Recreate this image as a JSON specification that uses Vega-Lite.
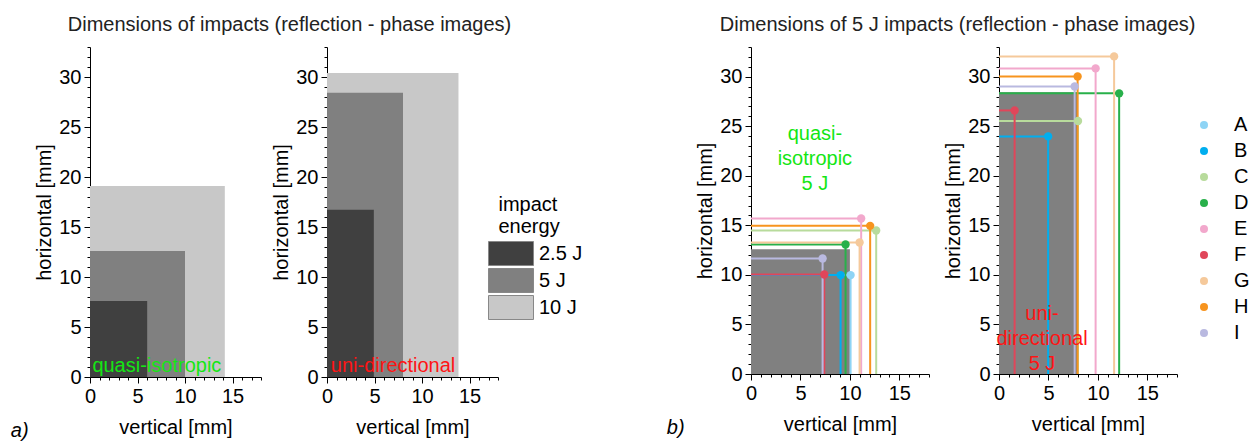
{
  "$schema": "https://vega.github.io/schema/vega-lite/v6.json",
  "background": "white",
  "padding": {"left": 10, "top": 15, "right": 0, "bottom": 0},
  "config": {
    "view": {"stroke": null},
    "font": "Liberation Sans",
    "axis": {
      "grid": false, "domainColor": "#000", "tickColor": "#000", "labelColor": "#000", "titleColor": "#000",
      "labelFont": "Liberation Sans", "titleFont": "Liberation Sans", "labelFontSize": 20, "titleFontSize": 20,
      "titleFontWeight": "normal", "labelFlush": false, "labelOverlap": false, "labelBound": false,
      "labelPadding": 3, "domainWidth": 1, "tickWidth": 1, "tickCount": 100, "format": "d"
    },
    "axisX": {"titlePadding": 11},
    "title": {"font": "Liberation Sans", "fontSize": 20, "fontWeight": "normal", "color": "#222"},
    "legend": {"labelFont": "Liberation Sans", "titleFont": "Liberation Sans", "labelColor": "#000", "titleColor": "#000", "padding": 0}
  },
  "datasets": {
    "energy": [
      {"layup": "qi", "energy": "10 J", "w": 14.19, "h": 19.1},
      {"layup": "qi", "energy": "5 J", "w": 10.0, "h": 12.6},
      {"layup": "qi", "energy": "2.5 J", "w": 6.02, "h": 7.6},
      {"layup": "ud", "energy": "10 J", "w": 13.84, "h": 30.4},
      {"layup": "ud", "energy": "5 J", "w": 8.0, "h": 28.43},
      {"layup": "ud", "energy": "2.5 J", "w": 4.93, "h": 16.73}
    ],
    "specimens": [
      {"layup": "qi", "id": "A", "w": 10.07, "h": 9.98},
      {"layup": "qi", "id": "B", "w": 9.06, "h": 9.98},
      {"layup": "qi", "id": "C", "w": 12.66, "h": 14.48},
      {"layup": "qi", "id": "D", "w": 9.56, "h": 13.07},
      {"layup": "qi", "id": "E", "w": 11.14, "h": 15.69},
      {"layup": "qi", "id": "F", "w": 7.41, "h": 10.04},
      {"layup": "qi", "id": "G", "w": 10.98, "h": 13.27},
      {"layup": "qi", "id": "H", "w": 12.05, "h": 14.95},
      {"layup": "qi", "id": "I", "w": 7.24, "h": 11.66},
      {"layup": "ud", "id": "B", "w": 4.97, "h": 23.98},
      {"layup": "ud", "id": "C", "w": 7.99, "h": 25.53},
      {"layup": "ud", "id": "D", "w": 12.15, "h": 28.32},
      {"layup": "ud", "id": "E", "w": 9.77, "h": 30.84},
      {"layup": "ud", "id": "F", "w": 1.58, "h": 26.6},
      {"layup": "ud", "id": "G", "w": 11.64, "h": 32.05},
      {"layup": "ud", "id": "H", "w": 7.95, "h": 30.03},
      {"layup": "ud", "id": "I", "w": 7.65, "h": 29.02}
    ]
  },
  "resolve": {"scale": {"color": "independent", "stroke": "independent"}, "legend": {"color": "independent"}},
  "spacing": 83,
  "hconcat": [
    {
      "title": {"text": "Dimensions of impacts (reflection - phase images)", "offset": 2, "anchor": "start", "dx": 57},
      "spacing": 9,
      "resolve": {"scale": {"color": "independent"}, "legend": {"color": "independent"}},
      "hconcat": [
        {
          "width": 171, "height": 330,
          "title": {"text": "a)", "orient": "bottom", "anchor": "start", "fontStyle": "italic", "color": "#000", "dx": -24, "dy": -20},
          "layer": [
            {
              "data": {"name": "energy"},
              "transform": [{"filter": "datum.layup === 'qi'"}],
              "mark": {"type": "rect"},
              "encoding": {
                "x": {"field": "w", "type": "quantitative", "scale": {"domain": [0, 18], "nice": false},
                  "axis": {"values": [0,1,2,3,4,5,6,7,8,9,10,11,12,13,14,15,16,17,18], "tickCount": 100, "format": "d", "labelExpr": "datum.value % 5 === 0 ? datum.label : ''", "labelOverlap": false,
                    "tickSize": {"condition": {"test": "datum.value % 5 === 0", "value": 6}, "value": 3}, "title": "vertical [mm]"}},
                "x2": {"datum": 0},
                "y": {"field": "h", "type": "quantitative", "scale": {"domain": [0, 33], "nice": false},
                  "axis": {"values": [0,1,2,3,4,5,6,7,8,9,10,11,12,13,14,15,16,17,18,19,20,21,22,23,24,25,26,27,28,29,30,31,32,33], "tickCount": 100, "format": "d", "labelExpr": "datum.value % 5 === 0 ? datum.label : ''", "labelOverlap": false,
                    "tickSize": {"condition": {"test": "datum.value % 5 === 0", "value": 6}, "value": 3}, "title": "horizontal [mm]"}},
                "y2": {"datum": 0},
                "color": {"field": "energy", "type": "nominal", "scale": {"domain": ["2.5 J", "5 J", "10 J"], "range": ["#404040", "#808080", "#c8c8c8"]}, "legend": null}
              }
            },
            {
              "data": {"values": [{"label": "quasi-isotropic"}]},
              "mark": {"type": "text", "align": "left", "baseline": "alphabetic", "fontSize": 20, "color": "#14e614"},
              "encoding": {"x": {"datum": 0.25, "type": "quantitative"}, "y": {"datum": 0.5, "type": "quantitative"}, "text": {"field": "label"}}
            }
          ]
        },
        {
          "width": 171, "height": 330,
          "layer": [
            {
              "data": {"name": "energy"},
              "transform": [{"filter": "datum.layup === 'ud'"}],
              "mark": {"type": "rect"},
              "encoding": {
                "x": {"field": "w", "type": "quantitative", "scale": {"domain": [0, 18], "nice": false},
                  "axis": {"values": [0,1,2,3,4,5,6,7,8,9,10,11,12,13,14,15,16,17,18], "tickCount": 100, "format": "d", "labelExpr": "datum.value % 5 === 0 ? datum.label : ''", "labelOverlap": false,
                    "tickSize": {"condition": {"test": "datum.value % 5 === 0", "value": 6}, "value": 3}, "title": "vertical [mm]"}},
                "x2": {"datum": 0},
                "y": {"field": "h", "type": "quantitative", "scale": {"domain": [0, 33], "nice": false},
                  "axis": {"values": [0,1,2,3,4,5,6,7,8,9,10,11,12,13,14,15,16,17,18,19,20,21,22,23,24,25,26,27,28,29,30,31,32,33], "tickCount": 100, "format": "d", "labelExpr": "datum.value % 5 === 0 ? datum.label : ''", "labelOverlap": false,
                    "tickSize": {"condition": {"test": "datum.value % 5 === 0", "value": 6}, "value": 3}, "title": "horizontal [mm]"}},
                "y2": {"datum": 0},
                "color": {"field": "energy", "type": "nominal", "scale": {"domain": ["2.5 J", "5 J", "10 J"], "range": ["#404040", "#808080", "#c8c8c8"]},
                  "legend": {"orient": "none", "legendX": 171.5, "legendY": 148, "title": ["impact", "energy"], "titleLineHeight": 22, "titleFontSize": 20,
                    "titleFontWeight": "normal", "titlePadding": 4, "labelFontSize": 20, "labelOffset": 15.5, "rowPadding": -3,
                    "symbolType": "M-1.875,-1L1.875,-1L1.875,1L-1.875,1Z", "symbolSize": 576, "symbolStrokeColor": "#888", "symbolStrokeWidth": 1, "symbolOpacity": 1}}
              }
            },
            {
              "data": {"values": [{"label": "uni-directional"}]},
              "mark": {"type": "text", "align": "left", "baseline": "alphabetic", "fontSize": 20, "color": "#ff1414"},
              "encoding": {"x": {"datum": 0.4, "type": "quantitative"}, "y": {"datum": 0.5, "type": "quantitative"}, "text": {"field": "label"}}
            }
          ]
        }
      ]
    },
    {
      "title": {"text": "Dimensions of 5 J impacts (reflection - phase images)", "offset": 2, "anchor": "start", "dx": 53},
      "spacing": 13,
      "resolve": {"scale": {"stroke": "independent"}},
      "hconcat": [
        {
          "width": 178, "height": 327,
          "title": {"text": "b)", "orient": "bottom", "anchor": "start", "fontStyle": "italic", "color": "#000", "dx": -29, "dy": -20},
          "layer": [
            {
              "data": {"name": "energy"},
              "transform": [{"filter": "datum.layup === 'qi' && datum.energy === '5 J'"}],
              "mark": {"type": "rect", "color": "#808080"},
              "encoding": {
                "x": {"field": "w", "type": "quantitative", "scale": {"domain": [0, 18], "nice": false},
                  "axis": {"values": [0,1,2,3,4,5,6,7,8,9,10,11,12,13,14,15,16,17,18], "tickCount": 100, "format": "d", "labelExpr": "datum.value % 5 === 0 ? datum.label : ''", "labelOverlap": false,
                    "tickSize": {"condition": {"test": "datum.value % 5 === 0", "value": 6}, "value": 3}, "title": "vertical [mm]"}},
                "x2": {"datum": 0},
                "y": {"field": "h", "type": "quantitative", "scale": {"domain": [0, 33], "nice": false},
                  "axis": {"values": [0,1,2,3,4,5,6,7,8,9,10,11,12,13,14,15,16,17,18,19,20,21,22,23,24,25,26,27,28,29,30,31,32,33], "tickCount": 100, "format": "d", "labelExpr": "datum.value % 5 === 0 ? datum.label : ''", "labelOverlap": false,
                    "tickSize": {"condition": {"test": "datum.value % 5 === 0", "value": 6}, "value": 3}, "title": "horizontal [mm]"}},
                "y2": {"datum": 0}
              }
            },
            {
              "data": {"name": "specimens"},
              "transform": [{"filter": "datum.layup === 'qi'"}],
              "mark": {"type": "rule", "strokeWidth": 2},
              "encoding": {
                "x": {"field": "w", "type": "quantitative"}, "x2": {"datum": 0}, "y": {"field": "h", "type": "quantitative"},
                "stroke": {"field": "id", "type": "nominal", "scale": {"domain": ["A","B","C","D","E","F","G","H","I"], "range": ["#8ed4f5","#00aeef","#b8db9c","#28b04a","#f2a8cc","#e0465a","#f5c99b","#f7941e","#b9b9e0"]}, "legend": null}
              }
            },
            {
              "data": {"name": "specimens"},
              "transform": [{"filter": "datum.layup === 'qi'"}],
              "mark": {"type": "rule", "strokeWidth": 2},
              "encoding": {
                "x": {"field": "w", "type": "quantitative"}, "y": {"field": "h", "type": "quantitative"}, "y2": {"datum": 0},
                "stroke": {"field": "id", "type": "nominal", "scale": {"domain": ["A","B","C","D","E","F","G","H","I"], "range": ["#8ed4f5","#00aeef","#b8db9c","#28b04a","#f2a8cc","#e0465a","#f5c99b","#f7941e","#b9b9e0"]}, "legend": null}
              }
            },
            {
              "data": {"name": "specimens"},
              "transform": [{"filter": "datum.layup === 'qi'"}],
              "mark": {"type": "point", "filled": true, "opacity": 1, "size": 70},
              "encoding": {
                "x": {"field": "w", "type": "quantitative"}, "y": {"field": "h", "type": "quantitative"},
                "color": {"field": "id", "type": "nominal", "scale": {"domain": ["A","B","C","D","E","F","G","H","I"], "range": ["#8ed4f5","#00aeef","#b8db9c","#28b04a","#f2a8cc","#e0465a","#f5c99b","#f7941e","#b9b9e0"]},
                  "legend": {"orient": "none", "legendX": 443, "legendY": 68, "title": null, "symbolType": "circle", "symbolSize": 64, "labelFontSize": 20, "labelOffset": 20, "rowPadding": 6, "symbolOpacity": 1, "symbolStrokeWidth": 0}}
              }
            },
            {
              "data": {"values": [{"label": "quasi-\nisotropic\n5 J"}]},
              "mark": {"type": "text", "align": "center", "baseline": "alphabetic", "fontSize": 20, "lineHeight": 25, "lineBreak": "\n", "color": "#14e614"},
              "encoding": {"x": {"datum": 6.46, "type": "quantitative"}, "y": {"datum": 23.6, "type": "quantitative"}, "text": {"field": "label"}}
            }
          ]
        },
        {
          "width": 178, "height": 327,
          "layer": [
            {
              "data": {"name": "energy"},
              "transform": [{"filter": "datum.layup === 'ud' && datum.energy === '5 J'"}],
              "mark": {"type": "rect", "color": "#808080"},
              "encoding": {
                "x": {"field": "w", "type": "quantitative", "scale": {"domain": [0, 18], "nice": false},
                  "axis": {"values": [0,1,2,3,4,5,6,7,8,9,10,11,12,13,14,15,16,17,18], "tickCount": 100, "format": "d", "labelExpr": "datum.value % 5 === 0 ? datum.label : ''", "labelOverlap": false,
                    "tickSize": {"condition": {"test": "datum.value % 5 === 0", "value": 6}, "value": 3}, "title": "vertical [mm]"}},
                "x2": {"datum": 0},
                "y": {"field": "h", "type": "quantitative", "scale": {"domain": [0, 33], "nice": false},
                  "axis": {"values": [0,1,2,3,4,5,6,7,8,9,10,11,12,13,14,15,16,17,18,19,20,21,22,23,24,25,26,27,28,29,30,31,32,33], "tickCount": 100, "format": "d", "labelExpr": "datum.value % 5 === 0 ? datum.label : ''", "labelOverlap": false,
                    "tickSize": {"condition": {"test": "datum.value % 5 === 0", "value": 6}, "value": 3}, "title": "horizontal [mm]"}},
                "y2": {"datum": 0}
              }
            },
            {
              "data": {"name": "specimens"},
              "transform": [{"filter": "datum.layup === 'ud'"}],
              "mark": {"type": "rule", "strokeWidth": 2},
              "encoding": {
                "x": {"field": "w", "type": "quantitative"}, "x2": {"datum": 0}, "y": {"field": "h", "type": "quantitative"},
                "stroke": {"field": "id", "type": "nominal", "scale": {"domain": ["A","B","C","D","E","F","G","H","I"], "range": ["#8ed4f5","#00aeef","#b8db9c","#28b04a","#f2a8cc","#e0465a","#f5c99b","#f7941e","#b9b9e0"]}, "legend": null}
              }
            },
            {
              "data": {"name": "specimens"},
              "transform": [{"filter": "datum.layup === 'ud'"}],
              "mark": {"type": "rule", "strokeWidth": 2},
              "encoding": {
                "x": {"field": "w", "type": "quantitative"}, "y": {"field": "h", "type": "quantitative"}, "y2": {"datum": 0},
                "stroke": {"field": "id", "type": "nominal", "scale": {"domain": ["A","B","C","D","E","F","G","H","I"], "range": ["#8ed4f5","#00aeef","#b8db9c","#28b04a","#f2a8cc","#e0465a","#f5c99b","#f7941e","#b9b9e0"]}, "legend": null}
              }
            },
            {
              "data": {"name": "specimens"},
              "transform": [{"filter": "datum.layup === 'ud'"}],
              "mark": {"type": "point", "filled": true, "opacity": 1, "size": 70},
              "encoding": {
                "x": {"field": "w", "type": "quantitative"}, "y": {"field": "h", "type": "quantitative"},
                "color": {"field": "id", "type": "nominal", "scale": {"domain": ["A","B","C","D","E","F","G","H","I"], "range": ["#8ed4f5","#00aeef","#b8db9c","#28b04a","#f2a8cc","#e0465a","#f5c99b","#f7941e","#b9b9e0"]},
                  "legend": {"orient": "none", "legendX": 443, "legendY": 68, "title": null, "symbolType": "circle", "symbolSize": 64, "labelFontSize": 20, "labelOffset": 20, "rowPadding": 6, "symbolOpacity": 1, "symbolStrokeWidth": 0}}
              }
            },
            {
              "data": {"values": [{"label": "uni-\ndirectional\n5 J"}]},
              "mark": {"type": "text", "align": "center", "baseline": "alphabetic", "fontSize": 20, "lineHeight": 25, "lineBreak": "\n", "color": "#ff1414"},
              "encoding": {"x": {"datum": 4.35, "type": "quantitative"}, "y": {"datum": 5.4, "type": "quantitative"}, "text": {"field": "label"}}
            }
          ]
        }
      ]
    }
  ]
}
